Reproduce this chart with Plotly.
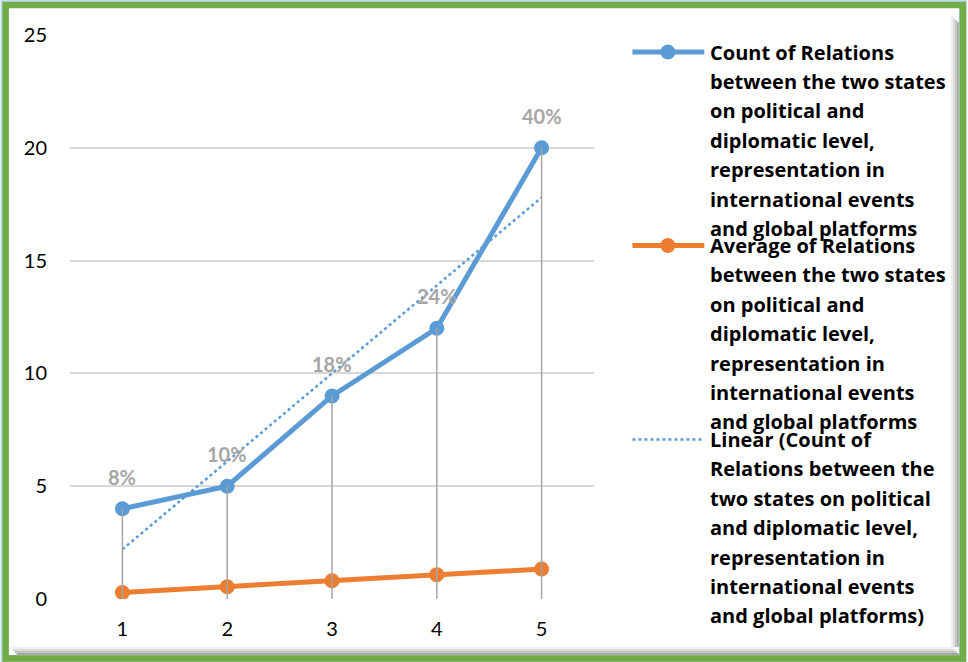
import numpy as np
import plotly.graph_objects as go

# ---- data ----
categories = [1, 2, 3, 4, 5]
count_relations = [4, 5, 9, 12, 20]
average_relations = [0.29, 0.54, 0.81, 1.08, 1.33]
y_ticks = [0, 5, 10, 15, 20, 25]

legend_count = ["Count of Relations", "between the two states", "on political and",
                "diplomatic level,", "representation in", "international events",
                "and global platforms"]
legend_average = ["Average of Relations", "between the two states", "on political and",
                  "diplomatic level,", "representation in", "international events",
                  "and global platforms"]
legend_linear = ["Linear (Count of", "Relations between the", "two states on political",
                 "and diplomatic level,", "representation in", "international events",
                 "and global platforms)"]

BLUE = "#5B9BD5"
ORANGE = "#ED7D31"
GREY = "#A5A5A5"
FONT = "Lato, 'Open Sans', sans-serif"
LEGEND_FONT = "'Open Sans', Lato, sans-serif"

W, H = 968, 662
L, R, T, B = 69.5, 373.5, 35, 63
PW, PH = W - L - R, H - T - B


def px(x):
    return (x - L) / PW


def py(y):
    return (H - B - y) / PH


# linear trend of the count series
slope, intercept = np.polyfit(categories, count_relations, 1)
trend = [slope * c + intercept for c in categories]

# share of the total shown above each count point
total = sum(count_relations)
shares = [f"{round(100 * v / total)}%" for v in count_relations]

fig = go.Figure()

fig.add_trace(go.Scatter(x=categories, y=trend, mode="lines",
                         line=dict(color=BLUE, width=2.5, dash="dot"),
                         showlegend=False, hoverinfo="skip"))
fig.add_trace(go.Scatter(x=categories, y=count_relations, mode="lines+markers",
                         line=dict(color=BLUE, width=5),
                         marker=dict(color=BLUE, size=15), showlegend=False))
fig.add_trace(go.Scatter(x=categories, y=average_relations, mode="lines+markers",
                         line=dict(color=ORANGE, width=5),
                         marker=dict(color=ORANGE, size=15), showlegend=False))

# drop lines from the highest point in each category down to the axis
dx, dy = [], []
for c, v, a in zip(categories, count_relations, average_relations):
    dx += [c, c, None]
    dy += [0, max(v, a), None]
fig.add_trace(go.Scatter(x=dx, y=dy, mode="lines",
                         line=dict(color=GREY, width=1.5),
                         showlegend=False, hoverinfo="skip"))

annotations = []
for c, v, s in zip(categories, count_relations, shares):
    annotations.append(dict(x=c, y=v, xref="x", yref="y", text=s, showarrow=False,
                            yshift=32, font=dict(family=FONT, size=20, color="#A6A6A6",
                                                 weight="bold")))

# legend drawn beside the plot
shapes = []
LINE_GAP = 29.4
TEXT_X = 709
entries = [(legend_count, 52, BLUE, "solid", True),
           (legend_average, 245.5, ORANGE, "solid", True),
           (legend_linear, 439.5, BLUE, "dot", False)]
for lines, y0, color, dash, has_marker in entries:
    for i, t in enumerate(lines):
        annotations.append(dict(x=px(TEXT_X), y=py(y0 + i * LINE_GAP), xref="paper",
                                yref="paper", text=t, showarrow=False, xanchor="left",
                                yanchor="middle",
                                font=dict(family=LEGEND_FONT, size=20, color="black",
                                          weight="bold")))
    shapes.append(dict(type="line", xref="paper", yref="paper",
                       x0=px(633), x1=px(705), y0=py(y0), y1=py(y0),
                       line=dict(color=color, width=5 if dash == "solid" else 2.5,
                                 dash=dash)))
    if has_marker:
        shapes.append(dict(type="circle", xref="paper", yref="paper",
                           x0=px(661), x1=px(676), y0=py(y0 - 7.5), y1=py(y0 + 7.5),
                           fillcolor=color, line=dict(width=0)))

# outer frame: light edge, white panel, bevel shadow and green border
frame = [
    dict(type="rect", xref="paper", yref="paper", x0=px(0), x1=px(W), y0=py(H), y1=py(0),
         fillcolor="#BDD7EE", line=dict(width=0), layer="below"),
    dict(type="rect", xref="paper", yref="paper", x0=px(8), x1=px(960), y0=py(655), y1=py(8),
         fillcolor="white", line=dict(width=0), layer="below"),
]
for k, col in enumerate(["#F0F0F0", "#DCDCDC", "#C4C4C4", "#A8A8A8"]):
    frame.append(dict(type="rect", xref="paper", yref="paper",
                      x0=px(952 + 2 * k), x1=px(954 + 2 * k), y0=py(647),
                      y1=py(16 + 2 * k), fillcolor=col, line=dict(width=0), layer="below"))
    frame.append(dict(type="rect", xref="paper", yref="paper",
                      x0=px(10 + 2 * k), x1=px(954 + 2 * k), y0=py(649 + 2 * k),
                      y1=py(647 + 2 * k), fillcolor=col, line=dict(width=0), layer="below"))
frame.append(dict(type="rect", xref="paper", yref="paper", x0=px(5), x1=px(964),
                  y0=py(658.5), y1=py(5), line=dict(color="#70AD47", width=6.5)))

fig.update_layout(
    width=W, height=H,
    margin=dict(l=L, r=R, t=T, b=B, pad=0),
    paper_bgcolor="white",
    plot_bgcolor="rgba(0,0,0,0)",
    font=dict(family=FONT, size=20, color="black"),
    xaxis=dict(range=[0.5, 5.5], tickvals=categories, showgrid=False, zeroline=False,
               showline=False, ticks="", tickfont=dict(size=20), ticklabelstandoff=16),
    yaxis=dict(range=[0, 25], tickvals=y_ticks, showgrid=True, gridcolor="#D9D9D9",
               gridwidth=1.5, zeroline=False, showline=False, ticks="",
               tickfont=dict(size=20), ticklabelstandoff=22),
    annotations=annotations,
    shapes=frame + shapes,
    showlegend=False,
)

fig.write_html("out.html")
